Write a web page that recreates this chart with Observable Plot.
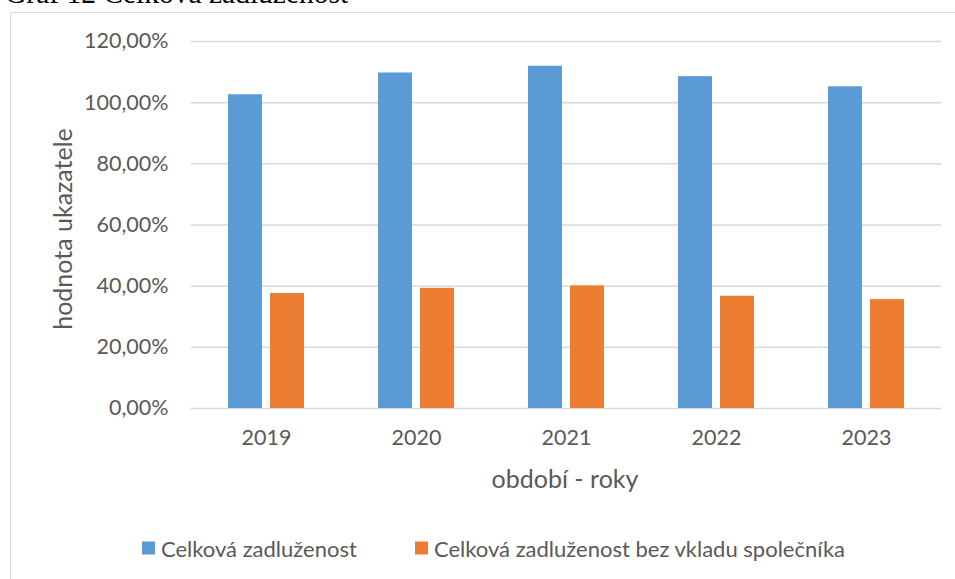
<!DOCTYPE html>
<html>
<head>
<meta charset="utf-8">
<script src="https://cdn.jsdelivr.net/npm/d3@7"></script>
<script src="https://cdn.jsdelivr.net/npm/@observablehq/plot@0.6"></script>
<style>
  html, body { margin: 0; padding: 0; background: #fff; }
  #wrap { position: relative; width: 955px; height: 579px; overflow: hidden; font-family: Lato, "Open Sans", sans-serif; color: #595959; }
  #title { position: absolute; left: 5px; top: -21px; font-family: "Liberation Serif", "Times New Roman", serif; font-size: 29.5px; color: #000; white-space: nowrap; line-height: 1; }
  #frame { position: absolute; left: 10px; top: 12px; width: 1200px; height: 1200px; border: 1px solid #d9d9d9; box-sizing: border-box; }
  #chart { position: absolute; left: 0; top: 0; }
  .ylab { position: absolute; left: 62px; top: 229px; transform: translate(-50%, -50%) rotate(-90deg); font-size: 25px; white-space: nowrap; }
  .xlab { position: absolute; left: 565px; top: 478px; transform: translate(-50%, -50%); font-size: 25px; white-space: nowrap; }
  .legend { position: absolute; top: 548px; left: 0; transform: translateY(-50%); font-size: 22px; white-space: nowrap; }
  .legend .item { position: absolute; top: 0; display: flex; align-items: center; transform: translateY(-50%); }
  .legend .sw { width: 13px; height: 13px; margin-right: 6px; display: inline-block; }
</style>
</head>
<body>
<div id="wrap">
  <div id="frame"></div>
  <div id="title">Graf 12 Celková zadluženost</div>
  <div id="chart"></div>
  <div class="ylab">hodnota ukazatele</div>
  <div class="xlab">období - roky</div>
  <div class="legend" id="legend"></div>
</div>
<script>
const years = ["2019", "2020", "2021", "2022", "2023"];
const seriesNames = ["Celková zadluženost", "Celková zadluženost bez vkladu společníka"];
const celkova = [102.6, 109.7, 111.9, 108.5, 105.2];
const bezVkladu = [37.6, 39.3, 40.1, 36.7, 35.6];
const yTicks = [0, 20, 40, 60, 80, 100, 120];
const colors = ["#5B9BD5", "#ED7D31"];

const data = [];
years.forEach((y, i) => {
  data.push({year: y, series: seriesNames[0], value: celkova[i]});
  data.push({year: y, series: seriesNames[1], value: bezVkladu[i]});
});

const fmt = d => d.toFixed(2).replace(".", ",") + "%";

const chart = Plot.plot({
  width: 955,
  height: 579,
  marginTop: 41,
  marginBottom: 171,
  marginLeft: 190,
  marginRight: 13,
  style: {fontFamily: "Lato, 'Open Sans', sans-serif", fontSize: "21.5px", color: "#595959", background: "transparent"},
  fx: {domain: years, paddingInner: 0, paddingOuter: 0, axis: null, label: null},
  x: {domain: seriesNames, paddingInner: 0.2, paddingOuter: 0.864, axis: null, label: null},
  y: {domain: [0, 120], axis: null, label: null},
  color: {domain: seriesNames, range: colors},
  marks: [
    Plot.gridY(yTicks, {stroke: "#d9d9d9", strokeOpacity: 1, strokeWidth: 1.5}),
    Plot.axisY(yTicks, {anchor: "left", tickSize: 0, tickPadding: 23, tickFormat: fmt, label: null}),
    Plot.barY(data, {fx: "year", x: "series", y: "value", fill: "series"}),
    Plot.axisFx({anchor: "bottom", tickSize: 0, tickPadding: 21, label: null})
  ]
});
document.getElementById("chart").appendChild(chart);

const legend = document.getElementById("legend");
const legendX = [142, 415];
seriesNames.forEach((s, i) => {
  const it = document.createElement("div");
  it.className = "item";
  it.style.left = legendX[i] + "px";
  const sw = document.createElement("span");
  sw.className = "sw";
  sw.style.background = colors[i];
  const tx = document.createElement("span");
  tx.textContent = s;
  it.appendChild(sw);
  it.appendChild(tx);
  legend.appendChild(it);
});
</script>
</body>
</html>
